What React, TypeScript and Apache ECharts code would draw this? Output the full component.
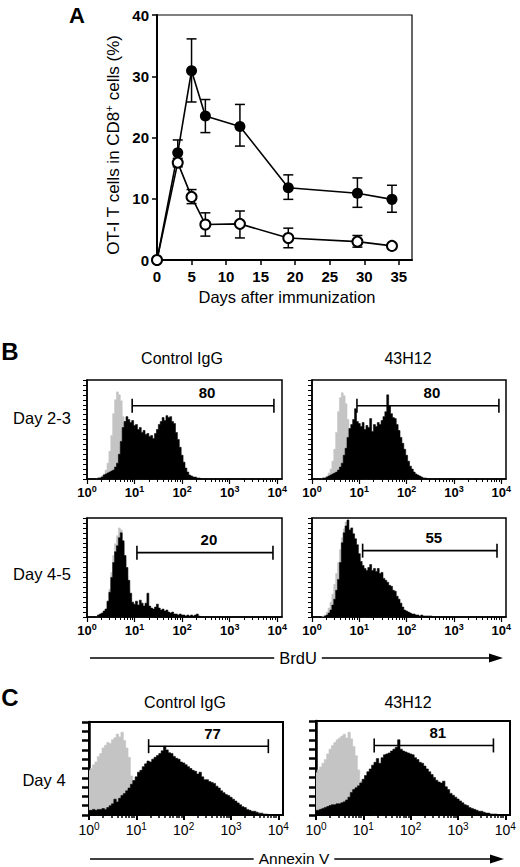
import React, { useEffect, useRef } from "react";
import * as echarts from "echarts";

const FONT = "'Liberation Sans', Arial, Helvetica, sans-serif";

// ---------- Panel A data ----------
const days = [0, 3, 5, 7, 12, 19, 29, 34];
const xTicksA = [0, 5, 10, 15, 20, 25, 30, 35];
const filledMean = [0, 17.5, 30.9, 23.5, 21.8, 11.8, 10.9, 9.9];
const filledLow = [0, 15.5, 25.8, 20.8, 18.6, 9.9, 8.6, 7.8];
const filledHigh = [0, 19.6, 36.1, 26.2, 25.4, 13.9, 13.4, 12.2];
const openMean = [0, 15.9, 10.3, 5.8, 5.9, 3.6, 3.0, 2.3];
const openLow = [0, 15.2, 9.2, 3.9, 3.6, 2.0, 2.1, 2.0];
const openHigh = [0, 16.6, 11.5, 7.7, 8.0, 5.2, 4.0, 2.6];

// ---------- Histogram data (BrdU, bins in log10 decades) ----------
const B_START = 0.2;
const B_STEP = 0.04;
const brdu23CtrlGrey = [0, 1, 2, 3, 5, 9, 16, 28, 44, 66, 80, 88, 85, 79, 63, 48, 36, 26, 17, 11, 7, 4, 2, 1, 0];
const brdu23CtrlBlack = [0, 1, 1, 2, 4, 5, 6, 7, 8, 9, 12, 16, 25, 38, 52, 58, 63, 60, 57, 59, 54, 55, 50, 52, 47, 49, 45, 46, 43, 44, 41, 46, 50, 55, 58, 62, 59, 64, 62, 63, 58, 56, 47, 40, 32, 24, 17, 11, 7, 4, 3, 2, 2, 1, 1, 0];
const brdu23AbGrey = [0, 1, 1, 3, 6, 10, 18, 30, 47, 68, 82, 87, 84, 76, 60, 45, 33, 23, 15, 10, 6, 3, 2, 1, 0];
const brdu23AbBlack = [0, 1, 1, 2, 3, 4, 5, 6, 7, 9, 12, 16, 24, 31, 42, 51, 55, 60, 71, 58, 56, 53, 57, 50, 54, 52, 61, 48, 55, 53, 57, 55, 59, 63, 68, 85, 74, 66, 62, 61, 55, 49, 42, 36, 30, 24, 18, 13, 10, 7, 5, 4, 3, 2, 1, 1, 0];
const brdu45CtrlGrey = [0, 0, 1, 2, 4, 8, 15, 28, 45, 62, 74, 82, 90, 88, 74, 58, 42, 28, 17, 10, 6, 3, 1, 0];
const brdu45CtrlBlack = [0, 2, 3, 4, 6, 8, 16, 25, 40, 55, 66, 72, 80, 85, 77, 62, 50, 37, 24, 15, 13, 16, 12, 17, 14, 11, 14, 24, 11, 9, 8, 10, 13, 9, 7, 8, 6, 7, 5, 4, 5, 3, 3, 2, 3, 2, 2, 1, 2, 1, 2, 1, 2, 3, 1, 0];
const brdu45AbGrey = [0, 1, 2, 5, 9, 15, 23, 33, 44, 55, 68, 80, 89, 96, 90, 78, 62, 45, 30, 18, 10, 5, 2, 0];
const brdu45AbBlack = [0, 0, 1, 2, 4, 7, 12, 18, 27, 38, 55, 75, 85, 92, 98, 88, 90, 84, 79, 73, 64, 56, 52, 49, 47, 50, 53, 47, 49, 46, 49, 44, 45, 39, 37, 35, 32, 31, 27, 26, 21, 18, 14, 10, 7, 6, 5, 4, 3, 3, 2, 2, 1, 2, 1, 1, 1, 1, 1, 0];

// ---------- Histogram data (Annexin V) ----------
const C_START = 0;
const C_STEP = 0.05;
const annexCtrlGrey = [48, 50, 54, 57, 63, 66, 72, 75, 78, 77, 81, 83, 87, 84, 89, 80, 72, 62, 42, 30, 20, 12, 6, 3, 1, 0];
const annexCtrlBlack = [5, 5, 6, 5, 6, 6, 7, 6, 8, 10, 12, 17, 14, 18, 21, 23, 26, 29, 33, 37, 41, 46, 48, 52, 55, 58, 57, 60, 62, 64, 66, 69, 74, 70, 67, 66, 63, 61, 60, 57, 56, 54, 52, 50, 48, 47, 44, 46, 41, 38, 38, 36, 35, 34, 31, 29, 26, 24, 22, 21, 19, 17, 15, 13, 11, 9, 8, 6, 5, 4, 4, 3, 2, 2, 1, 1, 0];
const annexAbGrey = [45, 48, 51, 55, 59, 65, 70, 74, 77, 80, 82, 84, 86, 82, 88, 81, 73, 63, 48, 36, 26, 16, 9, 4, 2, 0];
const annexAbBlack = [5, 5, 6, 7, 8, 9, 10, 11, 11, 12, 12, 13, 14, 16, 19, 24, 27, 29, 31, 34, 38, 42, 46, 49, 53, 56, 60, 55, 61, 64, 65, 66, 68, 70, 72, 80, 70, 68, 67, 66, 65, 64, 61, 59, 56, 55, 52, 49, 46, 43, 40, 37, 35, 34, 36, 30, 27, 23, 21, 19, 17, 15, 13, 11, 10, 8, 7, 6, 5, 4, 4, 3, 2, 2, 1, 1, 1, 0];

// ---------- Gates ----------
const gateStart = [0.95, 0.95, 1.05, 1.07, 1.26, 1.23];
const gateEnd = [3.93, 3.95, 3.91, 3.91, 3.79, 3.75];
const gateLevel = [74, 74, 65, 67, 74, 74];
const gateLabel = ["80", "80", "20", "55", "77", "81"];

const decadeTicks = [0, 1, 2, 3, 4];

// layout of the six histogram boxes
const histPanels = [
  { left: 87, top: 380, width: 195, height: 99, grey: brdu23CtrlGrey, black: brdu23CtrlBlack, start: B_START, step: B_STEP, kind: "B" },
  { left: 312, top: 380, width: 194, height: 99, grey: brdu23AbGrey, black: brdu23AbBlack, start: B_START, step: B_STEP, kind: "B" },
  { left: 87, top: 518, width: 195, height: 99, grey: brdu45CtrlGrey, black: brdu45CtrlBlack, start: B_START, step: B_STEP, kind: "B" },
  { left: 312, top: 518, width: 194, height: 99, grey: brdu45AbGrey, black: brdu45AbBlack, start: B_START, step: B_STEP, kind: "B" },
  { left: 89, top: 722, width: 194, height: 93, grey: annexCtrlGrey, black: annexCtrlBlack, start: C_START, step: C_STEP, kind: "C" },
  { left: 316, top: 721, width: 194, height: 94, grey: annexAbGrey, black: annexAbBlack, start: C_START, step: C_STEP, kind: "C" },
];

function buildOption(): any {
  const minorTicks: number[] = [];
  for (let d = 0; d < 4; d++) for (let k = 2; k <= 9; k++) minorTicks.push(d + Math.log10(k));

  const grids: any[] = [
    { left: 157, top: 15, width: 255, height: 245, show: true, borderColor: "#000", borderWidth: 1.2, backgroundColor: "transparent", containLabel: false, outerBoundsMode: "none" },
  ];
  const xAxes: any[] = [
    {
      gridIndex: 0, type: "value", min: 0, max: 36.9,
      axisLine: { show: true, onZero: false, lineStyle: { color: "#000", width: 2 } },
      axisTick: { show: true, length: 5, customValues: xTicksA, lineStyle: { color: "#000", width: 1.5 } },
      axisLabel: { show: true, customValues: xTicksA, color: "#000", fontSize: 15, fontWeight: "bold", margin: 9, fontFamily: FONT },
      splitLine: { show: false },
    },
  ];
  const yAxes: any[] = [
    {
      gridIndex: 0, type: "value", min: 0, max: 40, interval: 10,
      axisLine: { show: true, onZero: false, lineStyle: { color: "#000", width: 2 } },
      axisTick: { show: true, length: 5, lineStyle: { color: "#000", width: 1.5 } },
      axisLabel: { show: true, color: "#000", fontSize: 15, fontWeight: "bold", margin: 8, fontFamily: FONT },
      splitLine: { show: false },
    },
  ];

  const errStyle = { stroke: "#000", lineWidth: 1.5 };
  const errRender = (params: any, api: any) => {
    const x = api.value(0);
    const pl = api.coord([x, api.value(1)]);
    const ph = api.coord([x, api.value(2)]);
    const w = 5;
    return {
      type: "group",
      children: [
        { type: "line", shape: { x1: pl[0], y1: pl[1], x2: ph[0], y2: ph[1] }, style: errStyle },
        { type: "line", shape: { x1: pl[0] - w, y1: pl[1], x2: pl[0] + w, y2: pl[1] }, style: errStyle },
        { type: "line", shape: { x1: ph[0] - w, y1: ph[1], x2: ph[0] + w, y2: ph[1] }, style: errStyle },
      ],
    };
  };

  const series: any[] = [
    {
      type: "custom", xAxisIndex: 0, yAxisIndex: 0, z: 1, silent: true,
      data: days.map((d, i) => [d, filledLow[i], filledHigh[i]]).filter((r) => r[2] > r[1]),
      renderItem: errRender,
    },
    {
      type: "custom", xAxisIndex: 0, yAxisIndex: 0, z: 1, silent: true,
      data: days.map((d, i) => [d, openLow[i], openHigh[i]]).filter((r) => r[2] > r[1]),
      renderItem: errRender,
    },
    {
      type: "line", xAxisIndex: 0, yAxisIndex: 0, z: 3, silent: true, clip: false,
      data: days.map((d, i) => [d, filledMean[i]]),
      symbol: "circle", symbolSize: 11, showSymbol: true,
      itemStyle: { color: "#000" }, lineStyle: { color: "#000", width: 1.6 },
    },
    {
      type: "line", xAxisIndex: 0, yAxisIndex: 0, z: 4, silent: true, clip: false,
      data: days.map((d, i) => [d, openMean[i]]),
      symbol: "circle", symbolSize: 10, showSymbol: true,
      itemStyle: { color: "#fff", borderColor: "#000", borderWidth: 2 }, lineStyle: { color: "#000", width: 1.6 },
    },
  ];

  histPanels.forEach((p, i) => {
    const isB = p.kind === "B";
    const gi = i + 1;
    grids.push({ left: p.left, top: p.top, width: p.width, height: p.height, show: true, borderColor: "#000", borderWidth: isB ? 1.5 : 2, backgroundColor: "transparent", containLabel: false, outerBoundsMode: "none" });
    const majorIdx = xAxes.length;
    xAxes.push({
      gridIndex: gi, type: "value", min: 0, max: 4.1,
      axisLine: { show: true, onZero: false, lineStyle: { color: "#000", width: isB ? 1.5 : 2 } },
      axisTick: { show: true, length: 5, customValues: decadeTicks, lineStyle: { color: "#000", width: isB ? 1.2 : 2 } },
      axisLabel: {
        show: true, customValues: decadeTicks, margin: isB ? 5 : 6,
        formatter: (v: number) => `{b|10}{s|${Math.round(v)}}`,
        rich: isB
          ? { b: { fontSize: 13, fontWeight: "bold", color: "#000", fontFamily: FONT, lineHeight: 17 }, s: { fontSize: 9, fontWeight: "bold", color: "#000", fontFamily: FONT, verticalAlign: "top", lineHeight: 10 } }
          : { b: { fontSize: 14, color: "#000", fontFamily: FONT, lineHeight: 18 }, s: { fontSize: 10, color: "#000", fontFamily: FONT, verticalAlign: "top", lineHeight: 11 } },
      },
      splitLine: { show: false },
    });
    xAxes.push({
      gridIndex: gi, type: "value", min: 0, max: 4.1, position: "bottom",
      axisLine: { show: false },
      axisTick: { show: true, length: 3, customValues: minorTicks, lineStyle: { color: "#000", width: isB ? 1 : 1.5 } },
      axisLabel: { show: false },
      splitLine: { show: false },
    });
    const yIdx = yAxes.length;
    yAxes.push({
      gridIndex: gi, type: "value", min: 0, max: 100, interval: isB ? 5 : 10,
      axisLine: { show: true, onZero: false, lineStyle: { color: "#000", width: isB ? 1.5 : 2.5 } },
      axisTick: { show: true, length: isB ? 4 : 7, lineStyle: { color: "#000", width: isB ? 1 : 2.5 } },
      axisLabel: { show: false },
      splitLine: { show: false },
    });
    series.push({
      type: "line", xAxisIndex: majorIdx, yAxisIndex: yIdx, step: "middle", showSymbol: false, symbol: "none", silent: true, z: 2,
      data: p.grey.map((v, k) => [p.start + k * p.step, v]),
      lineStyle: { color: "#c4c4c4", width: 0.6 }, areaStyle: { color: "#c4c4c4", opacity: 1 },
    });
    series.push({
      type: "line", xAxisIndex: majorIdx, yAxisIndex: yIdx, step: "middle", showSymbol: false, symbol: "none", silent: true, z: 3,
      data: p.black.map((v, k) => [p.start + k * p.step, v]),
      lineStyle: { color: "#000", width: 0.6 }, areaStyle: { color: "#000", opacity: 1 },
    });
    const gateIdx = i;
    series.push({
      type: "custom", xAxisIndex: majorIdx, yAxisIndex: yIdx, z: 5, silent: true,
      data: [[gateStart[gateIdx], gateEnd[gateIdx], gateLevel[gateIdx]]],
      renderItem: (params: any, api: any) => {
        const p1 = api.coord([api.value(0), api.value(2)]);
        const p2 = api.coord([api.value(1), api.value(2)]);
        const cap = 7;
        const st = { stroke: "#000", lineWidth: 1.6 };
        return {
          type: "group",
          children: [
            { type: "line", shape: { x1: p1[0], y1: p1[1], x2: p2[0], y2: p2[1] }, style: st },
            { type: "line", shape: { x1: p1[0], y1: p1[1] - cap, x2: p1[0], y2: p1[1] + cap }, style: st },
            { type: "line", shape: { x1: p2[0], y1: p2[1] - cap, x2: p2[0], y2: p2[1] + cap }, style: st },
            {
              type: "text", x: (p1[0] + p2[0]) / 2 + 4, y: p1[1] - 13,
              style: { text: gateLabel[gateIdx], fontSize: 15, fontWeight: "bold", fontFamily: FONT, fill: "#000", align: "center", verticalAlign: "middle" },
            },
          ],
        };
      },
    });
  });

  const txt = (x: number, y: number, text: string, size: number, weight: string = "normal", extra: any = {}) => ({
    type: "text", x, y, silent: true,
    style: { text, fontSize: size, fontWeight: weight, fontFamily: FONT, fill: "#000", align: "center", verticalAlign: "middle", ...extra },
  });

  const graphic: any[] = [
    txt(77, 15, "A", 22, "bold"),
    txt(10, 351, "B", 24, "bold"),
    txt(10, 697, "C", 24, "bold"),
    {
      type: "text", x: 113, y: 145, rotation: Math.PI / 2, silent: true,
      style: {
        text: "{n|OT-I T cells in CD8}{s|+}{n| cells (%)}",
        align: "center", verticalAlign: "middle",
        rich: {
          n: { fontSize: 17, fontFamily: FONT, fill: "#000", lineHeight: 20 },
          s: { fontSize: 11, fontFamily: FONT, fill: "#000", verticalAlign: "top", lineHeight: 12 },
        },
      },
    },
    txt(287, 297, "Days after immunization", 16.5),
    txt(182, 358, "Control IgG", 16),
    txt(408, 358, "43H12", 16),
    txt(42, 418, "Day 2-3", 16.5),
    txt(42, 574, "Day 4-5", 16.5),
    { type: "line", silent: true, shape: { x1: 90, y1: 658, x2: 492, y2: 658 }, style: { stroke: "#000", lineWidth: 1.5 } },
    { type: "polygon", silent: true, shape: { points: [[489, 653.5], [503, 658], [489, 662.5]] }, style: { fill: "#000" } },
    txt(298, 658, "BrdU", 16.5, "normal", { backgroundColor: "#fff", padding: [0, 5] }),
    txt(185, 702, "Control IgG", 16),
    txt(408, 702, "43H12", 16),
    txt(44, 780, "Day 4", 16.5),
    { type: "line", silent: true, shape: { x1: 90, y1: 859, x2: 493, y2: 859 }, style: { stroke: "#000", lineWidth: 1.5 } },
    { type: "polygon", silent: true, shape: { points: [[490, 854.5], [504, 859], [490, 863.5]] }, style: { fill: "#000" } },
    txt(294, 858, "Annexin V", 15.5, "normal", { backgroundColor: "#fff", padding: [0, 5] }),
  ];

  return {
    animation: false,
    backgroundColor: "#fff",
    textStyle: { fontFamily: FONT },
    grid: grids,
    xAxis: xAxes,
    yAxis: yAxes,
    series,
    graphic,
  };
}

export default function App() {
  const ref = useRef<HTMLDivElement>(null);
  useEffect(() => {
    if (!ref.current) return;
    const chart = echarts.init(ref.current, null, { renderer: "svg" });
    chart.setOption(buildOption());
    return () => chart.dispose();
  }, []);
  return <div ref={ref} style={{ position: "absolute", left: 0, top: 0, width: 520, height: 867, background: "#fff" }} />;
}
